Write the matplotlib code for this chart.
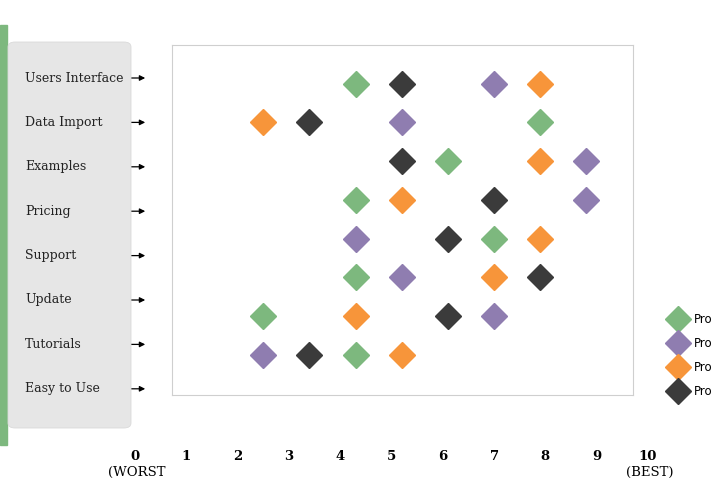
import matplotlib
matplotlib.use("Agg")
import matplotlib.pyplot as plt
from matplotlib.patches import FancyBboxPatch, Rectangle, FancyArrowPatch

categories = ["Users Interface", "Data Import", "Examples", "Pricing", "Support", "Update", "Tutorials", "Easy to Use"]
series_names = ["Pro", "Pro", "Pro", "Pro"]
colors = ["#7db87e", "#8f7db0", "#f7953a", "#3b3b3b"]
# x values per series, per row (row index 0..7)
green  = [4.3, 7.9, 6.1, 4.3, 7.0, 4.3, 2.5, 4.3]
purple = [7.0, 5.2, 8.8, 8.8, 4.3, 5.2, 7.0, 2.5]
orange = [7.9, 2.5, 7.9, 5.2, 7.9, 7.0, 4.3, 5.2]
black  = [5.2, 3.4, 5.2, 7.0, 6.1, 7.9, 6.1, 3.4]
series = [green, purple, orange, black]
xticks = list(range(11))

W, H = 720, 500
fig = plt.figure(figsize=(7.2, 5.0), dpi=100)
def fx(p): return p / W
def fy(p): return 1 - p / H

# left decoration
fig.patches.append(Rectangle((0, fy(445)), fx(7), fy(25) - fy(445), transform=fig.transFigure, color="#7db87e"))
fig.patches.append(FancyBboxPatch((fx(8), fy(428)), fx(123), fy(42) - fy(428), boxstyle="round,pad=0,rounding_size=0.01",
                                  transform=fig.transFigure, facecolor="#e6e6e6", edgecolor="#dadada", lw=0.6))
for i, c in enumerate(categories):
    y = 78 + 44.4 * i
    fig.text(fx(25), fy(y), c, family="DejaVu Serif", fontsize=9, va="center", ha="left", color="#222")
    fig.add_artist(FancyArrowPatch((fx(124), fy(y)), (fx(148), fy(y)), transform=fig.transFigure,
                                   arrowstyle="-|>", mutation_scale=8, color="black", lw=0.9))

# main plot
x0, x1 = 172, 633
t0, step = 135, 51.3
ax = fig.add_axes([fx(x0), fy(395), fx(x1 - x0), fy(45) - fy(395)])
ax.set_xlim((x0 - t0) / step, (x1 - t0) / step)
ax.set_ylim(8.04, -1.0)
ax.set_xticks([]); ax.set_yticks([])
for s in ax.spines.values():
    s.set_color("#cfcfcf"); s.set_linewidth(0.8)
for name, col, vals in zip(series_names, colors, series):
    ax.plot(vals, range(len(vals)), "D", ms=13, color=col, label=name, linestyle="none")

# tick axis
ax2 = fig.add_axes([fx(t0), fy(450), fx(step * 10), 0.001])
ax2.set_xlim(0, 10)
ax2.set_xticks(xticks)
ax2.set_xticklabels([str(t) for t in xticks], family="DejaVu Serif", fontsize=9.5, fontweight="bold")
ax2.tick_params(length=0, pad=0)
ax2.set_yticks([])
for s in ax2.spines.values(): s.set_visible(False)
ax2.patch.set_alpha(0)
fig.text(fx(108), fy(472), "(WORST", family="DejaVu Serif", fontsize=9.5, va="center")
fig.text(fx(626), fy(472), "(BEST)", family="DejaVu Serif", fontsize=9.5, va="center")

fig.legend(handles=ax.get_lines(), loc="upper left", bbox_to_anchor=(fx(666), fy(308)), frameon=False,
           fontsize=8.5, handletextpad=0.8, labelspacing=0.95, handlelength=1.2, markerscale=1.05,
           borderaxespad=0)

fig.savefig("out.png", dpi=100)
